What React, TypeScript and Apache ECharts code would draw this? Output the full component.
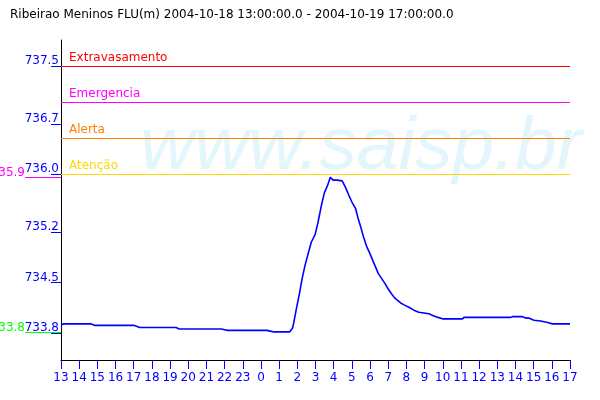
import { useEffect, useRef } from 'react';
import * as echarts from 'echarts';

const chartTitle = 'Ribeirao Meninos FLU(m) 2004-10-18 13:00:00.0 - 2004-10-19 17:00:00.0';
const startTime = '2004-10-18 13:00';
const endTime = '2004-10-19 17:00';

const times = [
  '2004-10-18 13:00', '2004-10-18 13:10', '2004-10-18 14:40', '2004-10-18 14:50', '2004-10-18 17:00',
  '2004-10-18 17:20', '2004-10-18 19:20', '2004-10-18 19:30', '2004-10-18 21:50', '2004-10-18 22:00',
  '2004-10-18 22:10', '2004-10-19 00:20', '2004-10-19 00:30', '2004-10-19 00:40', '2004-10-19 01:35',
  '2004-10-19 01:44', '2004-10-19 01:48', '2004-10-19 01:57', '2004-10-19 02:07', '2004-10-19 02:16',
  '2004-10-19 02:26', '2004-10-19 02:35', '2004-10-19 02:46', '2004-10-19 02:59', '2004-10-19 03:08',
  '2004-10-19 03:20', '2004-10-19 03:29', '2004-10-19 03:40', '2004-10-19 03:49', '2004-10-19 03:58',
  '2004-10-19 04:11', '2004-10-19 04:28', '2004-10-19 04:39', '2004-10-19 04:50', '2004-10-19 05:01',
  '2004-10-19 05:12', '2004-10-19 05:20', '2004-10-19 05:28', '2004-10-19 05:38', '2004-10-19 05:48',
  '2004-10-19 05:59', '2004-10-19 06:09', '2004-10-19 06:18', '2004-10-19 06:27', '2004-10-19 06:38',
  '2004-10-19 06:49', '2004-10-19 06:59', '2004-10-19 07:10', '2004-10-19 07:21', '2004-10-19 07:30',
  '2004-10-19 07:41', '2004-10-19 07:54', '2004-10-19 08:08', '2004-10-19 08:25', '2004-10-19 08:41',
  '2004-10-19 08:58', '2004-10-19 09:14', '2004-10-19 09:31', '2004-10-19 09:44', '2004-10-19 09:59',
  '2004-10-19 11:05', '2004-10-19 11:10', '2004-10-19 13:44', '2004-10-19 13:50', '2004-10-19 14:23',
  '2004-10-19 14:34', '2004-10-19 14:44', '2004-10-19 15:01', '2004-10-19 15:23', '2004-10-19 15:46',
  '2004-10-19 16:02', '2004-10-19 17:00',
];

const levels = [
  733.92, 733.93, 733.93, 733.91, 733.91,
  733.88, 733.88, 733.86, 733.86, 733.85,
  733.84, 733.84, 733.83, 733.82, 733.82,
  733.87, 733.94, 734.14, 734.35, 734.56,
  734.75, 734.89, 735.06, 735.17, 735.33,
  735.58, 735.74, 735.85, 735.96, 735.92,
  735.92, 735.91, 735.82, 735.71, 735.61,
  735.53, 735.40, 735.29, 735.14, 735.01,
  734.91, 734.81, 734.72, 734.63, 734.56,
  734.49, 734.42, 734.35, 734.29, 734.26,
  734.22, 734.19, 734.16, 734.12, 734.09,
  734.08, 734.07, 734.04, 734.02, 734.00,
  734.00, 734.02, 734.02, 734.03, 734.03,
  734.01, 734.01, 733.98, 733.97, 733.95,
  733.93, 733.93,
];

const thresholdNames = ['Extravasamento', 'Emergencia', 'Alerta', 'Atenção'];
const thresholdValues = [737.5, 737.0, 736.5, 736.0];
const thresholdColors = ['#ff0000', '#ff00ff', '#ff8000', '#ffd700'];

const yTickValues = [733.8, 734.5, 735.2, 736.0, 736.7, 737.5];
const yMin = 733.43;
const yMax = 737.86;

const watermarkText = 'www.saisp.br';

const toMs = (s: string) => Date.parse(s.replace(' ', 'T') + ':00Z');

export default function App() {
  const ref = useRef<HTMLDivElement>(null);

  useEffect(() => {
    if (!ref.current) return;
    const chart = echarts.init(ref.current, null, { renderer: 'svg' });
    const t0 = toMs(startTime);
    const spanH = (toMs(endTime) - t0) / 3600000;
    const points = times.map((t, i) => [(toMs(t) - t0) / 3600000, levels[i]]);
    const font = 'DejaVu Sans';
    const gridLeft = 61;

    chart.setOption({
      animation: false,
      textStyle: { fontFamily: font },
      title: {
        text: chartTitle,
        left: 5,
        top: 3,
        textStyle: { fontSize: 12, fontWeight: 'normal', color: '#000', fontFamily: font },
      },
      grid: { left: gridLeft, right: 30, top: 40, bottom: 40, containLabel: false },
      xAxis: {
        type: 'value',
        min: 0,
        max: spanH,
        interval: 1,
        splitLine: { show: false },
        axisLine: { lineStyle: { color: '#000', width: 1 } },
        axisTick: { length: 9, lineStyle: { color: '#0000ff' } },
        axisLabel: {
          color: '#0000ff',
          fontSize: 12,
          margin: 11,
          fontFamily: font,
          formatter: (v: number) => String(new Date(t0 + v * 3600000).getUTCHours()),
        },
      },
      yAxis: {
        type: 'value',
        min: yMin,
        max: yMax,
        splitLine: { show: false },
        axisLine: { show: true, lineStyle: { color: '#000', width: 1 } },
        axisTick: { show: true, length: 10, customValues: yTickValues, lineStyle: { color: '#0000ff' } },
        axisLabel: {
          customValues: yTickValues,
          color: '#0000ff',
          fontSize: 12,
          margin: 2,
          verticalAlign: 'bottom',
          fontFamily: font,
          formatter: (v: number) => v.toFixed(1),
        },
      },
      graphic: [
        {
          type: 'text',
          z: -10,
          x: 140,
          y: 180,
          silent: true,
          style: {
            text: watermarkText,
            font: 'italic 75px "Liberation Sans"',
            fill: '#e3f5fd',
            verticalAlign: 'bottom',
          },
        },
      ],
      series: [
        {
          type: 'line',
          data: points,
          showSymbol: false,
          z: 5,
          lineStyle: { color: '#0000ff', width: 1.6 },
          itemStyle: { color: '#0000ff' },
          markLine: {
            silent: true,
            symbol: 'none',
            animation: false,
            data: thresholdValues.map((v, i) => ({
              yAxis: v,
              lineStyle: { color: thresholdColors[i], width: 1, type: 'solid' },
              label: {
                show: true,
                position: 'insideStartTop',
                formatter: thresholdNames[i],
                color: thresholdColors[i],
                fontSize: 12,
                fontFamily: font,
                distance: [8, 3],
              },
            })),
          },
        },
      ],
    });

    const maxV = Math.max(...levels);
    const minV = Math.min(...levels);
    const extremes = [
      { v: maxV, color: '#ff00ff' },
      { v: minV, color: '#00ff00' },
    ];
    const extraGraphics: any[] = [];
    extremes.forEach((e) => {
      const py = Math.round(chart.convertToPixel({ yAxisIndex: 0 }, e.v) as number) + 0.5;
      extraGraphics.push({
        type: 'line',
        z: -5,
        silent: true,
        shape: { x1: 25, y1: py, x2: gridLeft, y2: py },
        style: { stroke: e.color, lineWidth: 1 },
      });
      extraGraphics.push({
        type: 'text',
        silent: true,
        x: 25,
        y: py,
        style: {
          text: (Math.floor(e.v * 10) / 10).toFixed(1),
          fill: e.color,
          font: '12px "DejaVu Sans"',
          align: 'right',
          verticalAlign: 'bottom',
        },
      });
    });
    chart.setOption({
      graphic: [
        {
          type: 'text',
          z: -10,
          x: 140,
          y: 180,
          silent: true,
          style: {
            text: watermarkText,
            font: 'italic 75px "Liberation Sans"',
            fill: '#e3f5fd',
            verticalAlign: 'bottom',
          },
        },
        ...extraGraphics,
      ],
    });

    return () => chart.dispose();
  }, []);

  return <div ref={ref} style={{ width: 600, height: 400, position: 'fixed', left: 0, top: 0 }} />;
}
